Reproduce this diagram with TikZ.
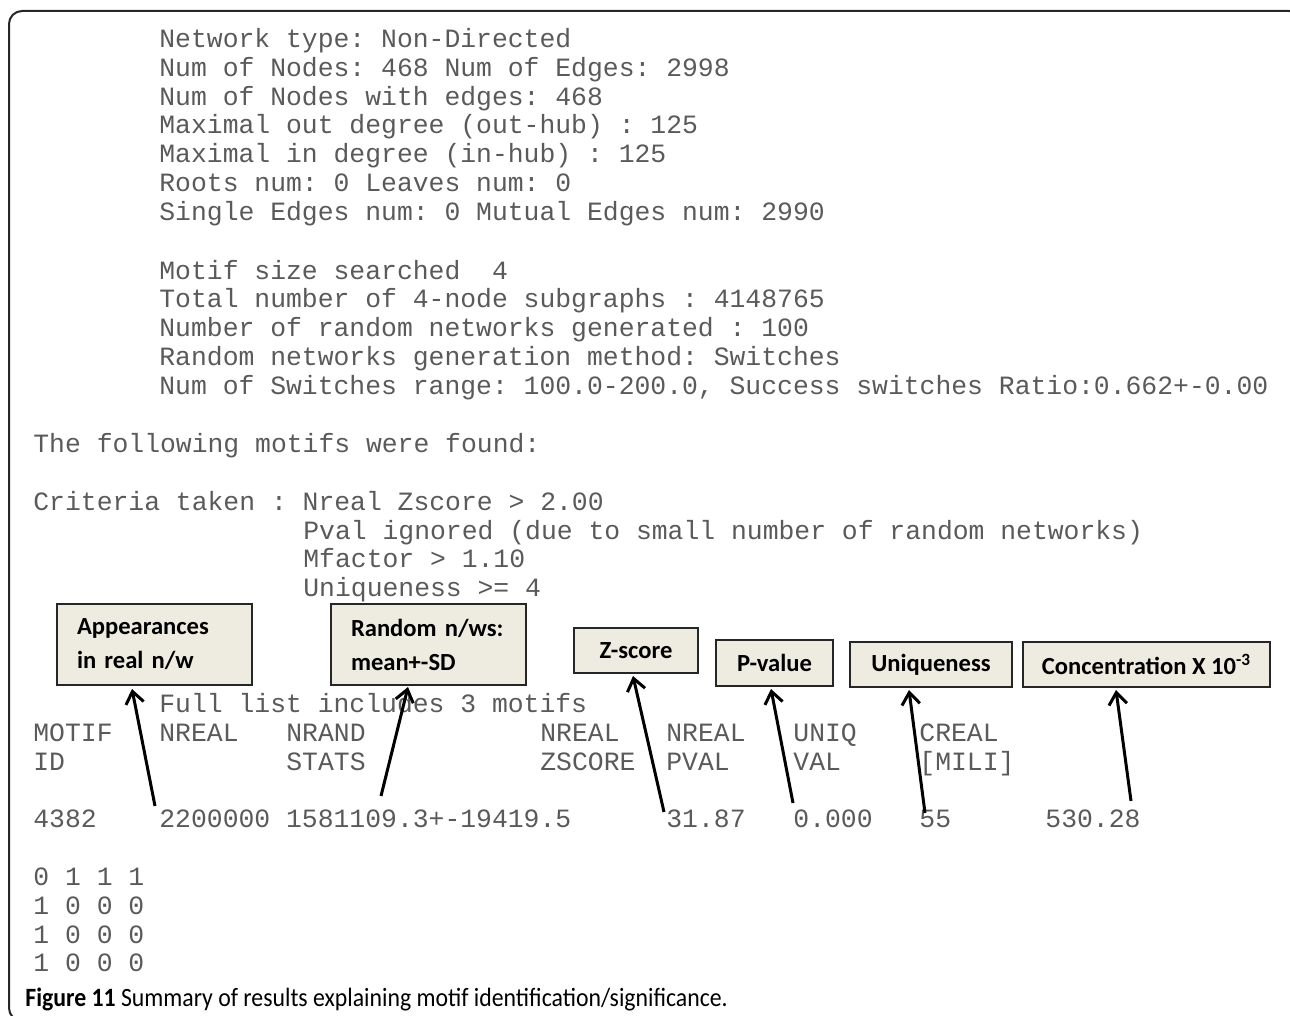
\documentclass[tikz,border=0pt]{standalone}
\usepackage{fontspec}
\setmainfont{Carlito}
\newfontfamily\monof{Liberation Mono}
\usetikzlibrary{arrows.meta}
\definecolor{txt}{RGB}{90,90,90}
\definecolor{boxfill}{RGB}{238,236,225}
\begin{document}
\frenchspacing
\begin{tikzpicture}[x=0.5pt,y=-0.5pt,
 mono/.style={anchor=base west,inner sep=0pt,text=txt,font=\monof\fontsize{13.2}{15}\selectfont\frenchspacing},
 lbl/.style={draw=black!85,line width=1pt,fill=boxfill,inner sep=0pt,font=\bfseries\fontsize{12.3}{17}\selectfont},
 twoline/.style={lbl,minimum width=97.5pt,minimum height=40.5pt,text width=77.5pt,align=left},
 arr/.style={line width=1.5pt,-{Straight Barb[length=6pt,width=9pt]}},
 frame/.style={line width=1pt,draw=black!85,rounded corners=6.5pt}]
\path[use as bounding box] (0,0) rectangle (1290,1016);
\begin{scope}
\clip (0,0) rectangle (1290,1016);
\draw[frame] (9,11) rectangle (1302,1021);
\end{scope}
% header block
\node[mono] (l1) at (159,48) {Network type: Non-Directed};
\node[mono] (l2) at (159,77) {Num of Nodes: 468 Num of Edges: 2998};
\node[mono] (l3) at (159,106) {Num of Nodes with edges: 468};
\node[mono] (l4) at (159,134) {Maximal out degree (out-hub) : 125};
\node[mono] (l5) at (159,163) {Maximal in degree (in-hub) : 125};
\node[mono] (l6) at (159,192) {Roots num: 0 Leaves num: 0};
\node[mono] (l7) at (159,221) {Single Edges num: 0 Mutual Edges num: 2990};
\node[mono] (l8) at (159,279) {Motif size searched\ \ 4};
\node[mono] (l9) at (159,307) {Total number of 4-node subgraphs : 4148765};
\node[mono] (l10) at (159,336) {Number of random networks generated : 100};
\node[mono] (l11) at (159,365) {Random networks generation method: Switches};
\node[mono] (l12) at (159,394) {Num of Switches range: 100.0-200.0, Success switches Ratio:0.662+-0.00};
\node[mono] (f1) at (33,452) {The following motifs were found:};
\node[mono] (c1) at (33,510) {Criteria taken : Nreal Zscore > 2.00};
\node[mono] (c2) at (303,539) {Pval ignored (due to small number of random networks)};
\node[mono] (c3) at (303,567) {Mfactor > 1.10};
\node[mono] (c4) at (303,596) {Uniqueness >= 4};
\node[mono] (full) at (159,712) {Full list includes 3 motifs};
% table header
\node[mono] (h1) at (33,741) {MOTIF};
\node[mono] (h2) at (159,741) {NREAL};
\node[mono] (h3) at (286,741) {NRAND};
\node[mono] (h4) at (540,741) {NREAL};
\node[mono] (h5) at (666,741) {NREAL};
\node[mono] (h6) at (793,741) {UNIQ};
\node[mono] (h7) at (919,741) {CREAL};
\node[mono] (g1) at (33,770) {ID};
\node[mono] (g3) at (286,770) {STATS};
\node[mono] (g4) at (540,770) {ZSCORE};
\node[mono] (g5) at (666,770) {PVAL};
\node[mono] (g6) at (793,770) {VAL};
\node[mono] (g7) at (919,770) {[MILI]};
% values
\node[mono] (v1) at (33,827) {4382};
\node[mono] (v2) at (159,827) {2200000 1581109.3+-19419.5};
\node[mono] (v4) at (666,827) {31.87};
\node[mono] (v5) at (793,827) {0.000};
\node[mono] (v6) at (919,827) {55};
\node[mono] (v7) at (1045,827) {530.28};
% matrix
\node[mono] (m1) at (33,885) {0 1 1 1};
\node[mono] (m2) at (33,914) {1 0 0 0};
\node[mono] (m3) at (33,943) {1 0 0 0};
\node[mono] (m4) at (33,971) {1 0 0 0};
% boxes
\node[twoline] (b1) at (154.5,644.5) {Appearances\\in real\ n/w};
\node[twoline] (b2) at (428.5,644.5) {Random n/ws:\\mean+-SD};
\node[lbl,minimum width=62pt,minimum height=22.5pt] (b3) at (636,650.5) {Z-score};
\node[lbl,minimum width=58.5pt,minimum height=23pt] (b4) at (774.5,663) {P-value};
\node[lbl,minimum width=81pt,minimum height=22.5pt] (b5) at (931,664.5) {Uniqueness};
\node[lbl,minimum width=123.5pt,minimum height=22.5pt] (b6) at (1146.5,664.5) {Concentration X 10\textsuperscript{-3}};
% arrows
\coordinate (t1) at (155,806); \coordinate (p1) at (132,689);
\coordinate (t2) at (381,796); \coordinate (p2) at (408,687);
\coordinate (t3) at (664,812); \coordinate (p3) at (633,676);
\coordinate (t4) at (793,803); \coordinate (p4) at (771,689);
\coordinate (t5) at (925,813); \coordinate (p5) at (909,690);
\coordinate (t6) at (1131,801); \coordinate (p6) at (1116,690);
\draw[arr] (t1) -- (p1);
\draw[arr] (t2) -- (p2);
\draw[arr] (t3) -- (p3);
\draw[arr] (t4) -- (p4);
\draw[arr] (t5) -- (p5);
\draw[arr] (t6) -- (p6);
% caption
\node[anchor=base west,inner sep=0pt,xscale=0.9,font=\fontsize{13.2}{15}\selectfont] (cap) at (25,1006) {\textbf{Figure 11} Summary of results explaining motif identification/significance.};
\end{tikzpicture}
\end{document}
